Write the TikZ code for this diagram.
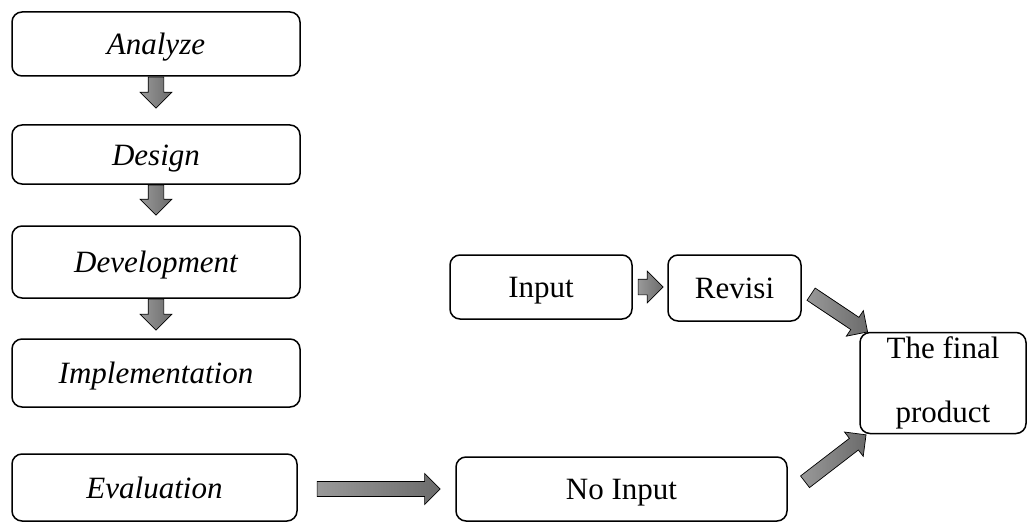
\documentclass[tikz,border=0pt]{standalone}
\usepackage{fontspec}
\setmainfont{Liberation Serif}
\usetikzlibrary{shapes,shapes.arrows,positioning,calc}

\tikzset{
	box/.style={draw, line width=1.5pt, rounded corners=10pt, inner sep=0pt,
		font=\fontsize{31}{37}\selectfont, text height=21pt, text depth=0pt},
	stage/.style={box, minimum width=288pt, font=\fontsize{31}{37}\selectfont\itshape},
	fatarrow/.style={single arrow, draw=black, line width=0.7pt,
		left color=black!40, right color=black!58,
		inner sep=0pt, text height=15pt, text depth=0pt,
		minimum width=31pt, single arrow head extend=8pt,
		single arrow tip angle=90, anchor=tail}
}

\begin{document}
\begin{tikzpicture}[x=1pt,y=1pt]
	\useasboundingbox (0,0) rectangle (1028,-524);

	% the five stages on the left
	\node[stage, minimum height=64pt] (analyze) at (156,-44) {Analyze};
	\node[stage, minimum height=59pt] (design) at (156,-154.5) {Design};
	\node[stage, minimum height=72pt] (development) at (156,-262) {Development};
	\node[stage, minimum height=68pt] (implementation) at (156,-373) {Implementation};
	\node[stage, minimum width=285pt, minimum height=67pt] (evaluation) at (154.5,-487.5) {Evaluation};

	% the two branches and the result
	\node[box, minimum width=182pt, minimum height=64pt] (input) at (541,-287) {Input};
	\node[box, minimum width=133pt, minimum height=66pt] (revisi) at (734.5,-288) {Revisi};
	\node[box, minimum width=331pt, minimum height=64pt] (noinput) at (621.5,-489) {No Input};
	\node[box, minimum width=166pt, minimum height=101pt, align=center,
		text height=, text depth=, font=\fontsize{31}{64}\selectfont] (final) at (943,-383) {The final\\product};

	% block arrows
	\node[fatarrow, rotate=-90, minimum height=31pt] (a1) at (analyze.south) {};
	\node[fatarrow, rotate=-90, minimum height=30pt] (a2) at (design.south) {};
	\node[fatarrow, rotate=-90, minimum height=31pt] (a3) at (development.south) {};
	\node[fatarrow, minimum height=123pt, text height=14pt] (a4) at ($(evaluation.east)+(19pt,-1.5pt)$) {};
	\node[fatarrow, minimum height=25pt, minimum width=29pt] (a5) at ($(input.east)+(5pt,0)$) {};
	\node[fatarrow, rotate=-33.7, minimum height=68pt, minimum width=29pt, text height=14pt] (a6) at ($(revisi.east)+(9pt,-6pt)$) {};
	\node[fatarrow, rotate=37.6, minimum height=77pt, minimum width=29pt, text height=14pt] (a7) at ($(noinput.east)+(17pt,7pt)$) {};
\end{tikzpicture}
\end{document}
